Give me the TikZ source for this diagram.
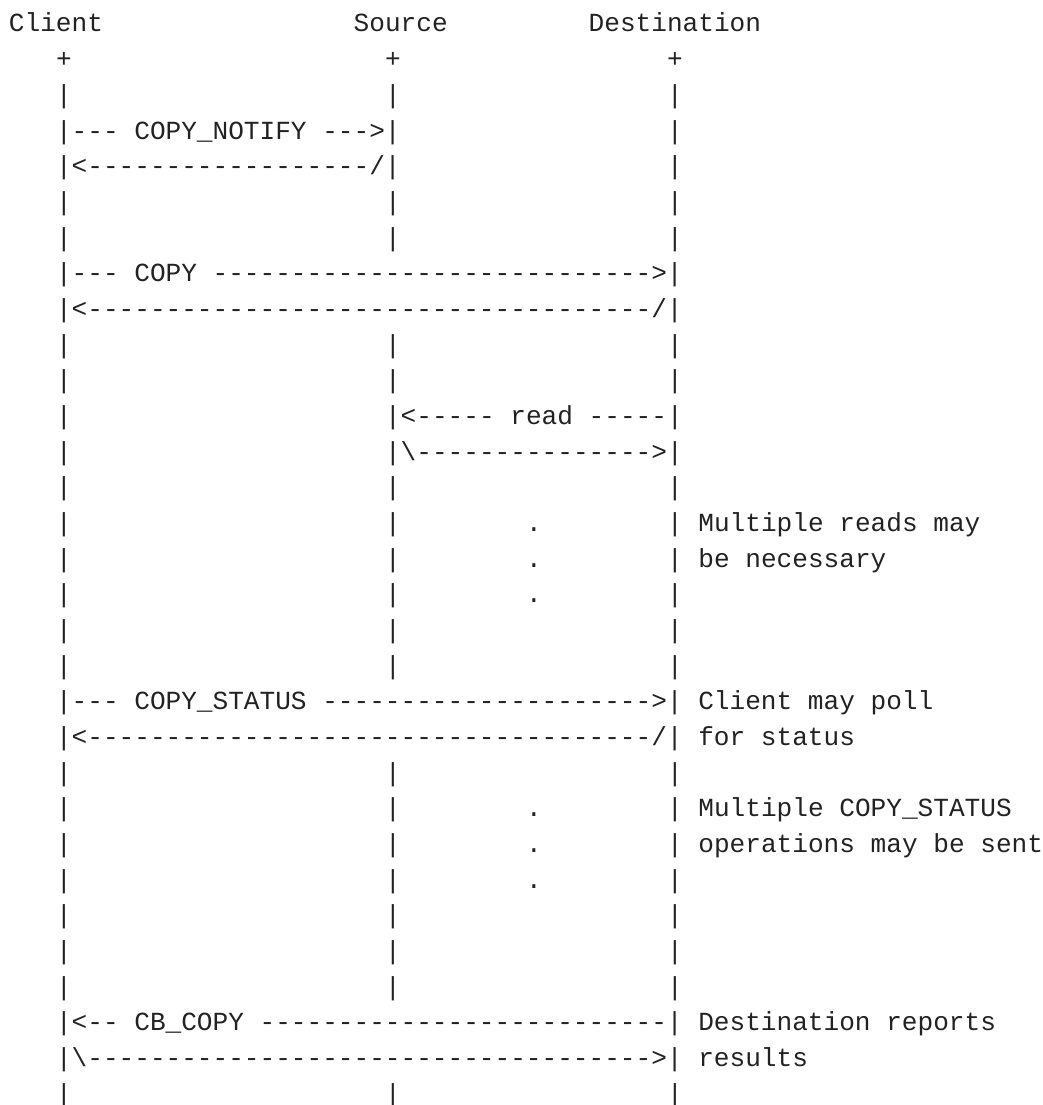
\documentclass[tikz,border=0pt]{standalone}
\usepackage{fontspec}
\setmonofont{Liberation Mono}
\usepackage{xcolor}
\usetikzlibrary{positioning}

\definecolor{ink}{HTML}{222222}

\ExplSyntaxOn
\NewDocumentCommand\dashes{m}{\prg_replicate:nn{#1}{-}}
\NewDocumentCommand\blanks{m}{\prg_replicate:nn{#1}{\nobreakspace}}
\ExplSyntaxOff

\newcommand\asciifont{\ttfamily\fontsize{26.11pt}{35.67pt}\selectfont}
\newcommand\lanes{\blanks{3}|\blanks{20}|\blanks{17}|}
\newcommand\dotlane{\blanks{3}|\blanks{20}|\blanks{8}.\blanks{8}|}
\def\pitch{35.67}

\begin{document}
\begin{tikzpicture}[
    x=1pt, y=1pt,
    row/.style={
      anchor=base west, inner sep=0pt, outer sep=0pt,
      font=\asciifont, text=ink
    },
  ]
  \useasboundingbox (-9,32) rectangle (1033,-1073);

  %% -- Participants -------------------------------------------
  \node[row] (names) at (0,0)          {Client\blanks{16}Source\blanks{9}Destination};
  \node[row] (tops)  at (0,-1*\pitch)  {\blanks{3}+\blanks{20}+\blanks{17}+};
  \node[row] (lane1) at (0,-2*\pitch)  {\lanes};

  %% -- COPY_NOTIFY to the source ------------------------------
  \node[row] (notify)    at (0,-3*\pitch) {\blanks{3}|--- COPY\_NOTIFY --->|\blanks{17}|};
  \node[row] (notifyret) at (0,-4*\pitch) {\blanks{3}|<\dashes{18}/|\blanks{17}|};
  \node[row] (lane2)     at (0,-5*\pitch) {\lanes};
  \node[row] (lane3)     at (0,-6*\pitch) {\lanes};

  %% -- COPY to the destination --------------------------------
  \node[row] (copy)    at (0,-7*\pitch)  {\blanks{3}|--- COPY \dashes{28}>|};
  \node[row] (copyret) at (0,-8*\pitch)  {\blanks{3}|<\dashes{36}/|};
  \node[row] (lane4)   at (0,-9*\pitch)  {\lanes};
  \node[row] (lane5)   at (0,-10*\pitch) {\lanes};

  %% -- Reads from the source ----------------------------------
  \node[row] (read)    at (0,-11*\pitch) {\blanks{3}|\blanks{20}|<----- read -----|};
  \node[row] (readret) at (0,-12*\pitch) {\blanks{3}|\blanks{20}|\textbackslash\dashes{15}>|};
  \node[row] (lane6)   at (0,-13*\pitch) {\lanes};
  \node[row] (reads1)  at (0,-14*\pitch) {\dotlane\ Multiple reads may};
  \node[row] (reads2)  at (0,-15*\pitch) {\dotlane\ be necessary};
  \node[row] (reads3)  at (0,-16*\pitch) {\dotlane};
  \node[row] (lane7)   at (0,-17*\pitch) {\lanes};
  \node[row] (lane8)   at (0,-18*\pitch) {\lanes};

  %% -- COPY_STATUS polling ------------------------------------
  \node[row] (status)    at (0,-19*\pitch) {\blanks{3}|--- COPY\_STATUS \dashes{21}>| Client may poll};
  \node[row] (statusret) at (0,-20*\pitch) {\blanks{3}|<\dashes{36}/| for status};
  \node[row] (lane9)     at (0,-21*\pitch) {\lanes};
  \node[row] (polls1)    at (0,-22*\pitch) {\dotlane\ Multiple COPY\_STATUS};
  \node[row] (polls2)    at (0,-23*\pitch) {\dotlane\ operations may be sent};
  \node[row] (polls3)    at (0,-24*\pitch) {\dotlane};
  \node[row] (lane10)    at (0,-25*\pitch) {\lanes};
  \node[row] (lane11)    at (0,-26*\pitch) {\lanes};
  \node[row] (lane12)    at (0,-27*\pitch) {\lanes};

  %% -- CB_COPY back to the client -----------------------------
  \node[row] (cbcopy)    at (0,-28*\pitch) {\blanks{3}|<-- CB\_COPY \dashes{26}| Destination reports};
  \node[row] (cbcopyret) at (0,-29*\pitch) {\blanks{3}|\textbackslash\dashes{36}>| results};
  \node[row] (lane13)    at (0,-30*\pitch) {\lanes};

\end{tikzpicture}
\end{document}
